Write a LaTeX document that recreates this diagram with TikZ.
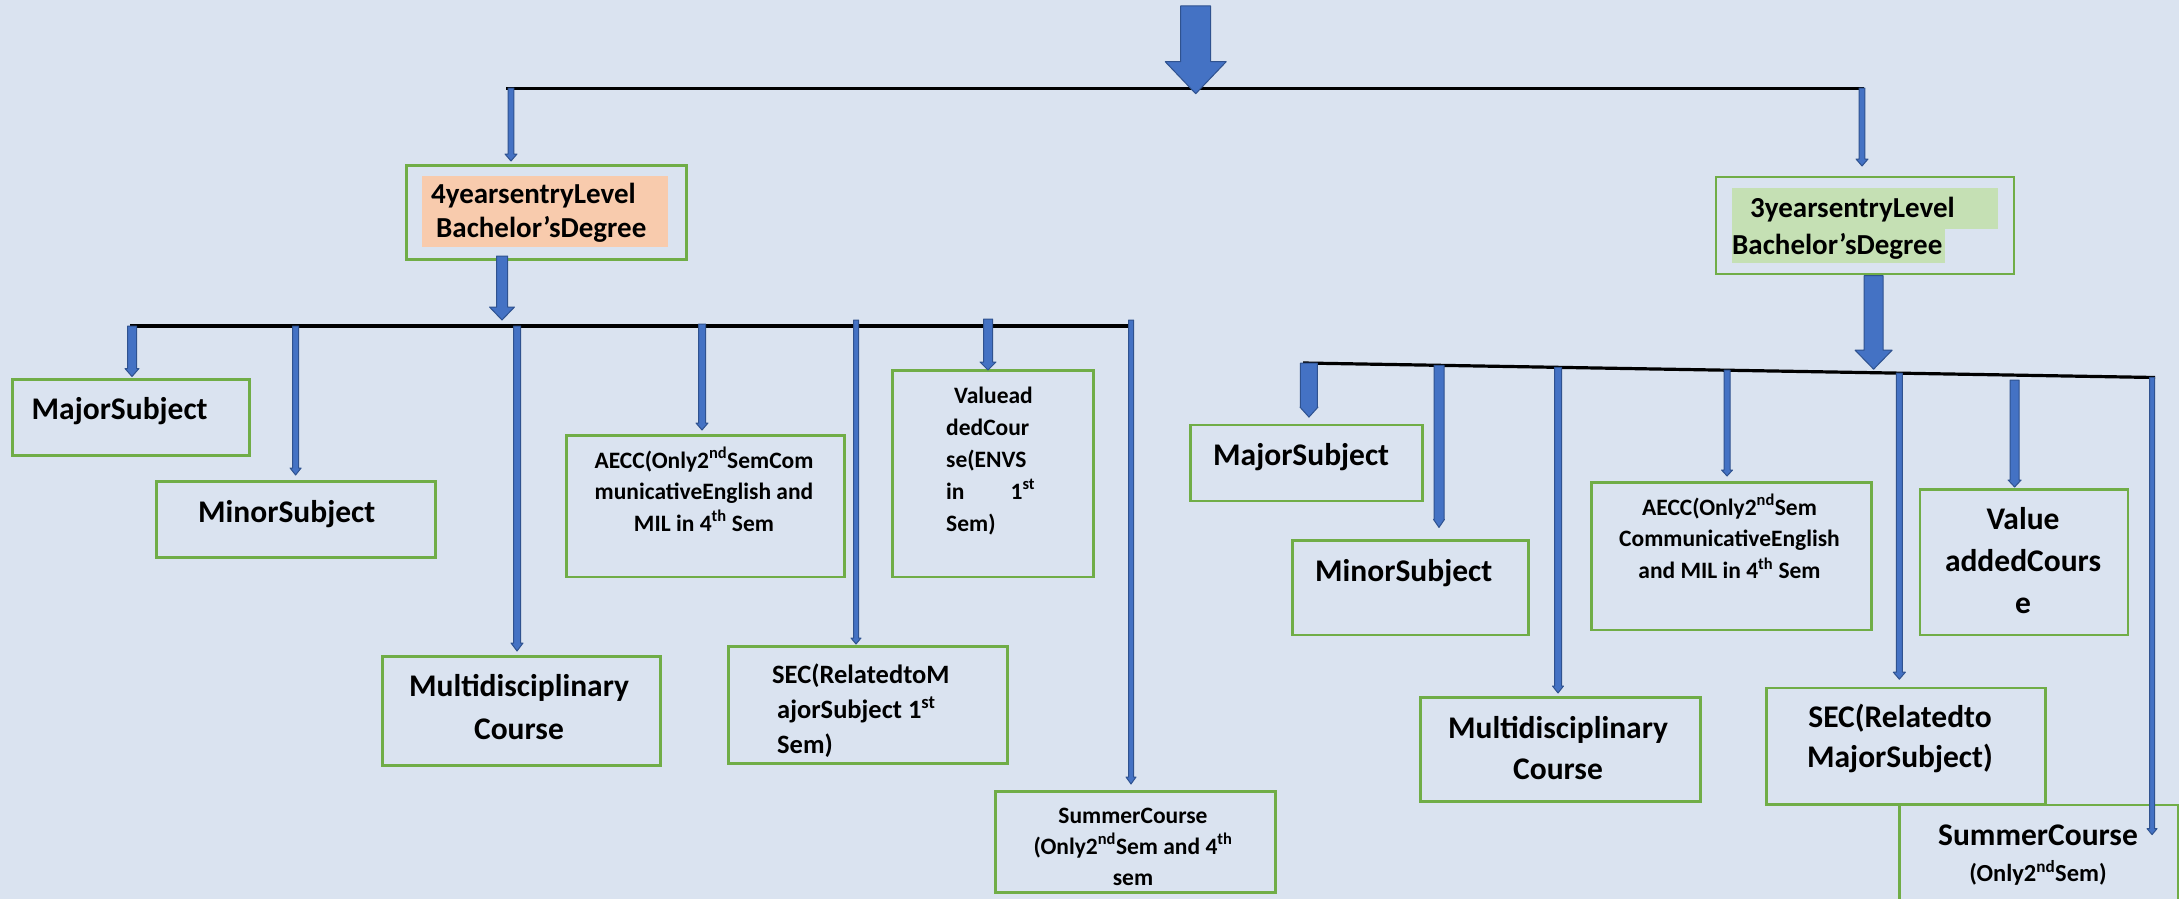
\documentclass[tikz,border=0pt]{standalone}
\usepackage{fontspec}
\setmainfont{Carlito}
\usetikzlibrary{calc}
\definecolor{bg}{HTML}{DAE3F0}
\definecolor{boxgreen}{HTML}{70AD47}
\definecolor{arrfill}{HTML}{4472C4}
\definecolor{arrline}{HTML}{2F528F}
\definecolor{peach}{HTML}{F8CBAD}
\definecolor{lgreen}{HTML}{C5E0B4}
\tikzset{
 box/.style={draw=boxgreen, line width=2.5pt, rectangle, inner sep=0pt, anchor=north west},
 blockarr/.style={fill=arrfill, draw=arrline, line width=1pt, line join=round},
 bar/.style={line width=3.5pt, black},
 lbl/.style={inner sep=0pt},
}
% #1 start, #2 end, #3 half shaft, #4 half head, #5 head length
\newcommand\barrow[5]{%
  \path[blockarr] let \p1=(#1), \p2=(#2) in
   (\x1-#3pt,\y1) -- (\x1+#3pt,\y1) -- (\x1+#3pt,\y2+#5pt) -- (\x1+#4pt,\y2+#5pt)
   -- (\x1,\y2) -- (\x1-#4pt,\y2+#5pt) -- (\x1-#3pt,\y2+#5pt) -- cycle;}
\begin{document}
\begin{tikzpicture}[x=1pt,y=-1pt]
\clip (0,0) rectangle (2179,899);
\fill[bg] (0,0) rectangle (2179,899);

% ---------- connector lines ----------
\coordinate (tl) at (506,88.7);
\coordinate (tr) at (1864,88.7);
\draw[bar] (tl) -- (tr);
\coordinate (ll) at (130,326);
\coordinate (lr) at (1131,326);
\draw[bar] (ll) -- (lr);
\coordinate (rl) at (1303,363);
\coordinate (rr) at (2155,377.5);
\draw[bar, line width=3.2pt] (rl) -- (rr);

% ---------- top-level boxes ----------
\node[box, minimum width=280, minimum height=94] (b4) at (405,164) {};
\fill[peach] (422,176) rectangle (668,247);
\node[lbl, anchor=base west, align=left, font=\bfseries\fontsize{29}{34}\selectfont] (tb4) at (431,237)
  {4yearsentryLevel\\\hspace*{5pt}Bachelor’sDegree};

\node[box, minimum width=298, minimum height=97] (b3) at (1714.6,175.7) {};
\fill[lgreen] (1732,188) rectangle (1997.5,229);
\fill[lgreen] (1732,229) rectangle (1945,262.7);
\node[lbl, anchor=base west, align=left, font=\bfseries\fontsize{29}{37}\selectfont] (tb3) at (1732,254)
  {\hspace*{18pt}3yearsentryLevel\\Bachelor’sDegree};

% ---------- left branch boxes ----------
\node[box, minimum width=237, minimum height=76] (lmaj) at (11,378) {};
\node[lbl, anchor=base west, font=\bfseries\fontsize{31.5}{36}\selectfont] (tlmaj) at (31.5,419) {MajorSubject};

\node[box, minimum width=279, minimum height=76] (lmin) at (155,480) {};
\node[lbl, anchor=base west, font=\bfseries\fontsize{31.5}{36}\selectfont] (tlmin) at (198,522) {MinorSubject};

\node[box, minimum width=278, minimum height=109] (lmul) at (381,655) {};
\node[lbl, anchor=base, align=center, font=\bfseries\fontsize{31.5}{43}\selectfont] (tlmul) at (519,739)
  {Multidisciplinary\\Course};

\node[box, minimum width=278, minimum height=141.5] (laecc) at (565,434) {};
\node[lbl, anchor=base, align=center, font=\bfseries\fontsize{23.5}{31.5}\selectfont] (tlaecc) at (704,531)
  {AECC(Only2\textsuperscript{nd}SemCom\\municativeEnglish and\\MIL in 4\textsuperscript{th} Sem};

\node[box, minimum width=279, minimum height=117] (lsec) at (727,645) {};
\node[lbl, anchor=base west, align=left, font=\bfseries\fontsize{26.5}{35}\selectfont] (tlsec) at (772,753)
  {SEC(RelatedtoM\\\hspace*{5pt}ajorSubject 1\textsuperscript{st}\\\hspace*{5pt}Sem)};

\node[box, minimum width=201, minimum height=206.5] (lval) at (891,369) {};
\node[lbl, anchor=base west, align=left, font=\bfseries\fontsize{23.5}{32}\selectfont] (tlval) at (946,531)
  {\hspace*{8pt}Valuead\\dedCour\\se(ENVS\\in\hspace*{46pt}1\textsuperscript{st}\\Sem)};

\node[box, minimum width=280, minimum height=101] (lsum) at (994,790) {};
\node[lbl, anchor=base, align=center, font=\bfseries\fontsize{23.5}{31}\selectfont] (tlsum) at (1133,885)
  {SummerCourse\\(Only2\textsuperscript{nd}Sem and 4\textsuperscript{th}\\sem};

% ---------- right branch boxes ----------
\node[box, minimum width=232, minimum height=76] (rmaj) at (1189,423.6) {};
\node[lbl, anchor=base west, font=\bfseries\fontsize{31.5}{36}\selectfont] (trmaj) at (1213,465) {MajorSubject};

\node[box, minimum width=236, minimum height=94.3] (rmin) at (1291,539.4) {};
\node[lbl, anchor=base west, font=\bfseries\fontsize{31.5}{36}\selectfont] (trmin) at (1315,581) {MinorSubject};

\node[box, minimum width=280, minimum height=104.3] (rmul) at (1419,696) {};
\node[lbl, anchor=base, align=center, font=\bfseries\fontsize{31.5}{41}\selectfont] (trmul) at (1558,779)
  {Multidisciplinary\\Course};

\node[box, minimum width=280, minimum height=147.6] (raecc) at (1590,481) {};
\node[lbl, anchor=base, align=center, font=\bfseries\fontsize{23.5}{31.8}\selectfont] (traecc) at (1729.5,578.6)
  {AECC(Only2\textsuperscript{nd}Sem\\CommunicativeEnglish\\and MIL in 4\textsuperscript{th} Sem};

\node[box, minimum width=279, minimum height=116.5] (rsec) at (1765,686.7) {};
\node[lbl, anchor=base, align=center, font=\bfseries\fontsize{31.5}{40}\selectfont] (trsec) at (1900,767)
  {SEC(Relatedto\\MajorSubject)};

\node[box, minimum width=208, minimum height=145.7] (rval) at (1918.5,488) {};
\node[lbl, anchor=base, align=center, font=\bfseries\fontsize{31.5}{41.7}\selectfont] (trval) at (2023,613)
  {Value\\addedCours\\e};

\node[box, minimum width=279, minimum height=120] (rsum) at (1898,803.6) {};
\node[lbl, anchor=base, font=\bfseries\fontsize{31.5}{35}\selectfont] (trsum1) at (2038,845) {SummerCourse};
\node[lbl, anchor=base, font=\bfseries\fontsize{24.5}{28}\selectfont] (trsum2) at (2038,881.6) {(Only2\textsuperscript{nd}Sem)};

% ---------- arrows ----------
\coordinate (src) at (1195.7,6);
\coordinate (hub) at (1195.7,88.7);
\barrow{src}{[yshift=-5pt]hub}{15}{30.5}{32}

\coordinate (ta4) at (511,88);
\coordinate (ta3) at (1862,88);
\barrow{ta4}{[yshift=3pt]b4.north}{2.8}{6}{7}
\barrow{ta3}{[yshift=9.7pt]b3.north}{2.8}{6}{7}

\coordinate (b4o) at (502,256);
\coordinate (lhub) at (502,326);
\barrow{b4o}{[yshift=6pt]lhub}{5.5}{12.5}{13}

\coordinate (b3o) at (1873.6,275.7);
\coordinate (rhub) at ($(rl)!0.6697!(rr)$);
\barrow{b3o}{[yshift=3.5pt]rhub}{9.5}{18.5}{19}

% left branch
\coordinate (la1) at (132,326);
\coordinate (la2) at (295.6,326);
\coordinate (la3) at (517,326);
\coordinate (la4) at (702,324);
\coordinate (la5) at (856,320);
\coordinate (la6) at (988,319);
\coordinate (la7) at (1131,320);
\barrow{la1}{[yshift=1.5pt]lmaj.north}{4.5}{7}{8}
\barrow{la2}{[yshift=5pt]lmin.north}{3}{5.5}{7}
\barrow{la3}{[yshift=4pt]lmul.north}{3.5}{6}{8}
\barrow{la4}{[yshift=4pt]laecc.north}{3.5}{6}{7}
\barrow{la5}{[yshift=1pt]lsec.north}{2.5}{5}{6}
\barrow{la6}{[yshift=-1pt]lval.north}{4.5}{8}{8}
\barrow{la7}{[yshift=6pt]lsum.north}{2.5}{5}{7}

% right branch
\coordinate (ra1) at ($(rl)!0.007!(rr)$);
\coordinate (ra2) at ($(rl)!0.1596!(rr)$);
\coordinate (ra3) at ($(rl)!0.2993!(rr)$);
\coordinate (ra4) at ($(rl)!0.4977!(rr)$);
\coordinate (ra5) at ($(rl)!0.6999!(rr)$);
\coordinate (ra6) at ($(rl)!0.8352!(rr)+(0,5)$);
\coordinate (ra7) at ($(rl)!0.9965!(rr)$);
\barrow{ra1}{[yshift=6.5pt]rmaj.north}{8.5}{9}{10}
\barrow{ra2}{[yshift=12pt]rmin.north}{5}{5.5}{8}
\barrow{ra3}{[yshift=3pt]rmul.north}{3.5}{5.5}{7}
\barrow{ra4}{[yshift=5pt]raecc.north}{3}{5.5}{6}
\barrow{ra5}{[yshift=7.5pt]rsec.north}{3}{6}{7}
\barrow{ra6}{[yshift=1pt]rval.north}{4.5}{6.5}{7}
\barrow{ra7}{[yshift=-31pt]rsum.north}{2.5}{5}{6}
\end{tikzpicture}
\end{document}
